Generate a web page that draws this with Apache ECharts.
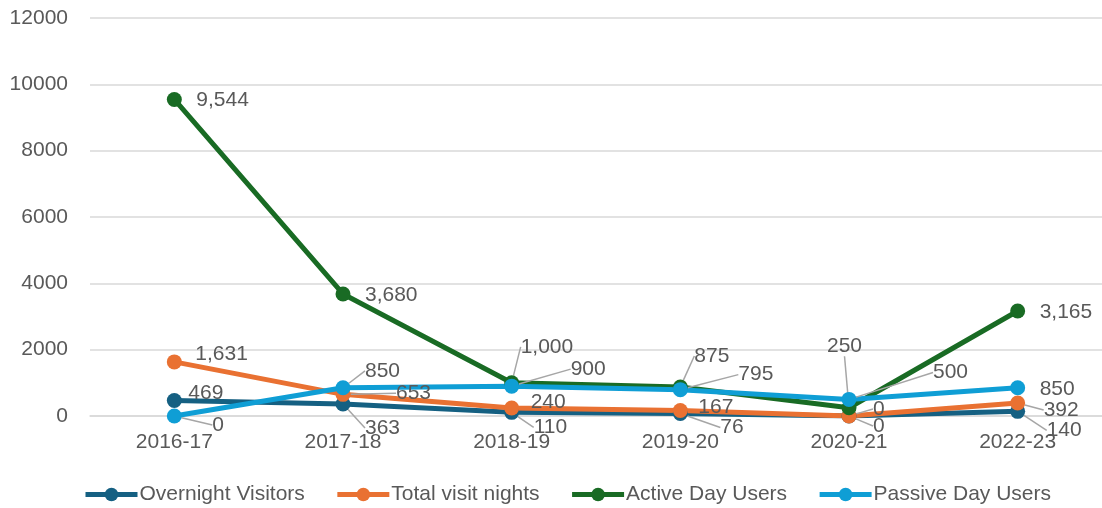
<!DOCTYPE html>
<html>
<head>
<meta charset="utf-8">
<script src="https://cdn.jsdelivr.net/npm/echarts@6/dist/echarts.min.js"></script>
<style>
  html, body { margin: 0; padding: 0; background: #fff; }
  #chart { width: 1102px; height: 508px; }
</style>
</head>
<body>
<div id="chart"></div>
<script>
// values
const years = ['2016-17', '2017-18', '2018-19', '2019-20', '2020-21', '2022-23']
const overnightVisitors = [469, 363, 110, 76, 0, 140]
const totalVisitNights = [1631, 653, 240, 167, 0, 392]
const activeDayUsers = [9544, 3680, 1000, 875, 250, 3165]
const passiveDayUsers = [0, 850, 900, 795, 500, 850]
const yTicks = [0, 2000, 4000, 6000, 8000, 10000, 12000]

// where each label sits relative to its point: [dx to label left, dy to label middle, leader line?]
const labelSpots = [
  [[14, -7, 0], [22, 24, 1], [22, 15, 1], [40, 14, 1], [24, 10, 1], [29, 19, 1]],
  [[21, -8, 0], [53, -1, 1], [19, -6, 0], [18, -3, 0], [24, -7, 1], [26, 7, 1]],
  [[22, 1, 0], [22, 1, 0], [9, -36, 1], [14, -31, 1], [-22, -62, 1], [22, 1, 0]],
  [[38, 9, 1], [22, -17, 1], [59, -17, 1], [58, -15, 1], [84, -27, 1], [22, 1, 0]]
]

const textColor = '#595959'
const fontFamily = 'Liberation Sans, Arial, sans-serif'

function makeSeries(name, values, color, si) {
  return {
    name: name,
    type: 'line',
    symbol: 'circle',
    symbolSize: 15,
    lineStyle: {width: 5, color: color},
    itemStyle: {color: color},
    data: values.map((v, i) => ({
      value: v,
      labelLine: {show: !!labelSpots[si][i][2]}
    })),
    label: {
      show: true,
      position: 'right',
      color: textColor,
      fontSize: 21,
      fontFamily: fontFamily,
      formatter: p => p.value.toLocaleString('en-US')
    },
    labelLine: {
      show: true,
      lineStyle: {color: '#a6a6a6', width: 1.5}
    },
    labelLayout: function (params) {
      const spot = labelSpots[params.seriesIndex][params.dataIndex]
      const cx = params.rect.x + params.rect.width / 2
      const cy = params.rect.y + params.rect.height / 2
      return {
        x: cx + spot[0],
        y: cy + spot[1],
        align: 'left',
        verticalAlign: 'middle'
      }
    },
    emphasis: {disabled: true}
  }
}

const myChart = echarts.init(document.getElementById('chart'))
const option = {
  animation: false,
  grid: {left: 90, right: 0, top: 18, bottom: 92},
  legend: {
    left: 78,
    bottom: -2,
    itemWidth: 52,
    itemHeight: 17,
    itemGap: 30,
    lineStyle: {width: 5},
    textStyle: {color: textColor, fontSize: 21, fontFamily: fontFamily, padding: [0, 0, 0, -3]},
    data: ['Overnight Visitors', 'Total visit nights', 'Active Day Users', 'Passive Day Users']
  },
  xAxis: {
    type: 'category',
    data: years,
    boundaryGap: true,
    axisLine: {show: true, lineStyle: {color: '#d9d9d9', width: 1.5}},
    axisTick: {show: false},
    axisLabel: {color: textColor, fontSize: 21, fontFamily: fontFamily, margin: 16}
  },
  yAxis: {
    type: 'value',
    min: yTicks[0],
    max: yTicks[yTicks.length - 1],
    interval: 2000,
    axisLine: {show: false},
    axisTick: {show: false},
    splitLine: {lineStyle: {color: '#d9d9d9', width: 1.5}},
    axisLabel: {color: textColor, fontSize: 21, fontFamily: fontFamily, margin: 22, formatter: v => String(v)}
  },
  series: [
    makeSeries('Overnight Visitors', overnightVisitors, '#156082', 0),
    makeSeries('Total visit nights', totalVisitNights, '#e97132', 1),
    makeSeries('Active Day Users', activeDayUsers, '#196b24', 2),
    makeSeries('Passive Day Users', passiveDayUsers, '#0f9ed5', 3)
  ]
}
myChart.setOption(option)
</script>
</body>
</html>
